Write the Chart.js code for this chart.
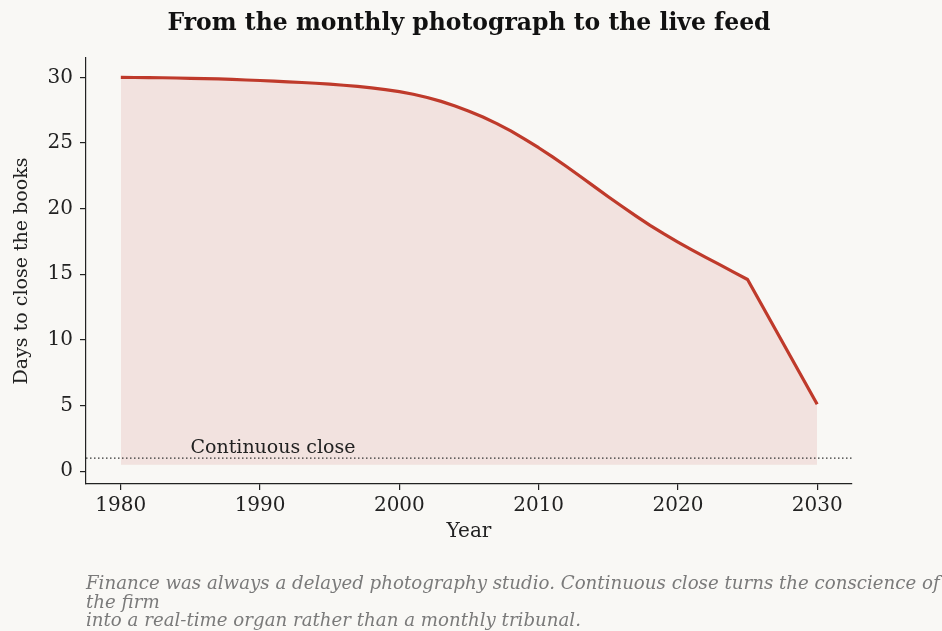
<!DOCTYPE html>
<html lang="en">
<head>
    <meta charset="UTF-8">
    <title>From the monthly photograph to the live feed</title>
    <style>
        body { margin: 0; background-color: #f9f8f5; }
        #wrap { width: 942px; height: 631px; position: relative; }
    </style>
</head>
<body>
    <div id="wrap"><canvas id="closeChart" width="942" height="631"></canvas></div>
    <script src="https://cdn.jsdelivr.net/npm/chart.js"></script>
    <script>
        // days needed to close the books, by year
        const years = [1980, 1981, 1982, 1983, 1984, 1985, 1986, 1987, 1988, 1989,
                       1990, 1991, 1992, 1993, 1994, 1995, 1996, 1997, 1998, 1999,
                       2000, 2001, 2002, 2003, 2004, 2005, 2006, 2007, 2008, 2009,
                       2010, 2011, 2012, 2013, 2014, 2015, 2016, 2017, 2018, 2019,
                       2020, 2021, 2022, 2023, 2024, 2025, 2030];
        const days = [30.00, 29.99, 29.98, 29.97, 29.95, 29.93, 29.91, 29.88, 29.84, 29.80,
                      29.76, 29.71, 29.66, 29.61, 29.55, 29.48, 29.40, 29.31, 29.20, 29.07,
                      28.91, 28.71, 28.47, 28.17, 27.82, 27.42, 26.98, 26.48, 25.92, 25.30,
                      24.64, 23.94, 23.21, 22.45, 21.68, 20.91, 20.16, 19.43, 18.73, 18.07,
                      17.45, 16.86, 16.29, 15.73, 15.17, 14.60, 5.10];
        const continuousClose = 1;
        const fillFloor = 0.5;
        const xTicks = [1980, 1990, 2000, 2010, 2020, 2030];
        const yTicks = [0, 5, 10, 15, 20, 25, 30];

        const titleText = 'From the monthly photograph to the live feed';
        const captionLines = [
            'Finance was always a delayed photography studio. Continuous close turns the conscience of',
            'the firm',
            'into a real-time organ rather than a monthly tribunal.'
        ];

        const lineColor = '#bf3a2b';
        const bg = '#f9f8f5';
        const serif = "'DejaVu Serif', serif";

        const xMin = 1977.5, xMax = 2032.5;
        const yMin = -0.975, yMax = 31.475;

        const decor = {
            id: 'decor',
            beforeDraw(chart) {
                const c = chart.ctx;
                c.save();
                c.fillStyle = bg;
                c.fillRect(0, 0, chart.width, chart.height);
                c.restore();
            },
            afterDraw(chart) {
                const c = chart.ctx;
                const xs = chart.scales.x, ys = chart.scales.y;
                c.save();
                // title
                c.fillStyle = '#111';
                c.font = 'bold 23.5px ' + serif;
                c.textAlign = 'center';
                c.textBaseline = 'middle';
                c.fillText(titleText, 469, 24);
                // label for the dotted reference line
                c.font = '19px ' + serif;
                c.fillStyle = '#222';
                c.textAlign = 'left';
                c.textBaseline = 'alphabetic';
                c.fillText('Continuous close', xs.getPixelForValue(1985), ys.getPixelForValue(continuousClose + 0.35));
                // caption
                c.font = 'italic 18.2px ' + serif;
                c.fillStyle = '#7a7a7a';
                captionLines.forEach((ln, i) => {
                    c.fillText(ln, 86, 589 + i * 18.5);
                });
                c.restore();
            }
        };

        const ctx = document.getElementById('closeChart').getContext('2d');
        new Chart(ctx, {
            type: 'line',
            data: {
                datasets: [
                    {
                        data: years.map((y, i) => ({ x: y, y: days[i] })),
                        borderColor: lineColor,
                        borderWidth: 3.2,
                        borderJoinStyle: 'round',
                        backgroundColor: 'rgba(192, 57, 43, 0.11)',
                        fill: { value: fillFloor },
                        pointRadius: 0,
                        tension: 0,
                        order: 1
                    },
                    {
                        data: [{ x: xMin, y: continuousClose }, { x: xMax, y: continuousClose }],
                        borderColor: '#333',
                        borderWidth: 1.2,
                        borderDash: [1.5, 2.5],
                        pointRadius: 0,
                        fill: false,
                        order: 0
                    }
                ]
            },
            options: {
                responsive: false,
                animation: false,
                layout: { padding: { top: 58, right: 90, left: 0, bottom: 0 } },
                plugins: {
                    legend: { display: false },
                    tooltip: { enabled: false }
                },
                scales: {
                    x: {
                        type: 'linear',
                        min: xMin,
                        max: xMax,
                        afterFit: s => { s.height = 147; },
                        afterBuildTicks: s => { s.ticks = xTicks.map(v => ({ value: v })); },
                        ticks: {
                            font: { family: serif, size: 20 },
                            color: '#222',
                            padding: 4,
                            maxRotation: 0,
                            callback: v => String(v)
                        },
                        grid: { drawOnChartArea: false, drawTicks: true, tickLength: 6, color: '#222', lineWidth: 1.2 },
                        border: { display: true, color: '#222', width: 1.2 },
                        title: {
                            display: true,
                            text: 'Year',
                            font: { family: serif, size: 20 },
                            color: '#222',
                            padding: { top: 0, bottom: 87 }
                        }
                    },
                    y: {
                        type: 'linear',
                        min: yMin,
                        max: yMax,
                        afterFit: s => { s.width = 86; },
                        afterBuildTicks: s => { s.ticks = yTicks.map(v => ({ value: v })); },
                        ticks: {
                            font: { family: serif, size: 20 },
                            color: '#222',
                            padding: 7
                        },
                        grid: { drawOnChartArea: false, drawTicks: true, tickLength: 6, color: '#222', lineWidth: 1.2 },
                        border: { display: true, color: '#222', width: 1.2 },
                        title: {
                            display: true,
                            text: 'Days to close the books',
                            font: { family: serif, size: 19 },
                            color: '#222',
                            padding: { top: 11, bottom: 0 }
                        }
                    }
                }
            },
            plugins: [decor]
        });
    </script>
</body>
</html>
